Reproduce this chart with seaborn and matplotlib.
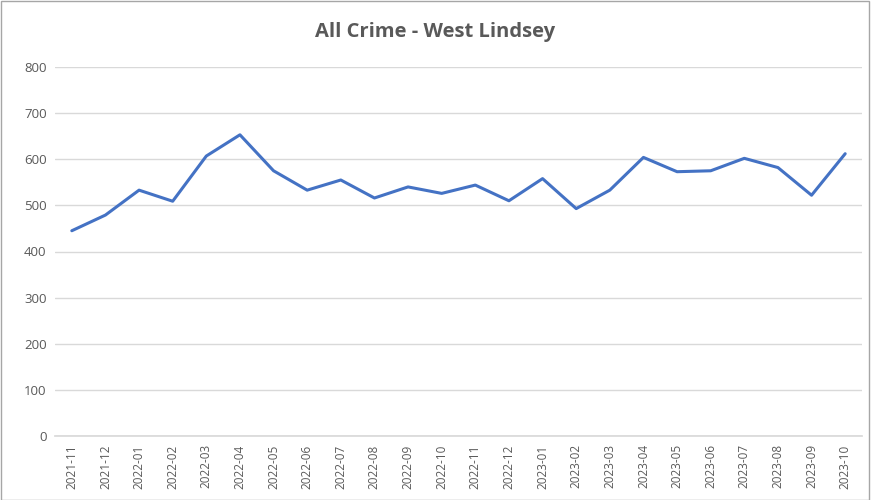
import matplotlib
matplotlib.use("Agg")
import matplotlib.pyplot as plt
import seaborn as sns
import pandas as pd
from matplotlib.patches import Rectangle

months = ["2021-11", "2021-12", "2022-01", "2022-02", "2022-03", "2022-04", "2022-05",
          "2022-06", "2022-07", "2022-08", "2022-09", "2022-10", "2022-11", "2022-12",
          "2023-01", "2023-02", "2023-03", "2023-04", "2023-05", "2023-06", "2023-07",
          "2023-08", "2023-09", "2023-10"]
crimes = [445, 479, 533, 509, 607, 653, 575, 533, 555, 516, 540, 526, 544, 510,
          558, 493, 533, 604, 573, 575, 602, 582, 522, 612]
yticks = [0, 100, 200, 300, 400, 500, 600, 700, 800]

sns.set_theme(style="white")
plt.rcParams['font.family'] = ['Open Sans', 'DejaVu Sans']

df = pd.DataFrame({"month": months, "crimes": crimes})
df["idx"] = range(len(df))

fig = plt.figure(figsize=(8.71, 5.0), dpi=100)
ax = fig.add_axes([55/871, 1-436/500, (862-55)/871, (436-67)/500])
sns.lineplot(data=df, x="idx", y="crimes", ax=ax, color="#4472C4", linewidth=2.2)

ax.set_xlim(-0.5, len(months) - 0.5)
ax.set_ylim(0, 800)
ax.set_yticks(yticks)
ax.set_yticklabels([str(v) for v in yticks], color="#595959", fontsize=9.5)
ax.set_xticks(range(len(months)))
ax.set_xticklabels(months, rotation=90, color="#595959", fontsize=8.5)
ax.tick_params(axis="both", length=0, pad=6)
ax.grid(axis="y", color="#D9D9D9", linewidth=1)
ax.set_axisbelow(True)
for s in ["top", "right", "left"]:
    ax.spines[s].set_visible(False)
ax.spines["bottom"].set_color("#D9D9D9")
ax.set_xlabel("")
ax.set_ylabel("")

fig.text(0.5, 1-32/500, "All Crime - West Lindsey", ha="center", va="center",
         fontsize=14.5, fontweight="bold", color="#595959")
fig.patches.append(Rectangle((0.001, 0.001), 0.997, 0.997, transform=fig.transFigure,
                             fill=False, edgecolor="#A6A6A6", linewidth=1))

fig.savefig("out.png", dpi=100)
